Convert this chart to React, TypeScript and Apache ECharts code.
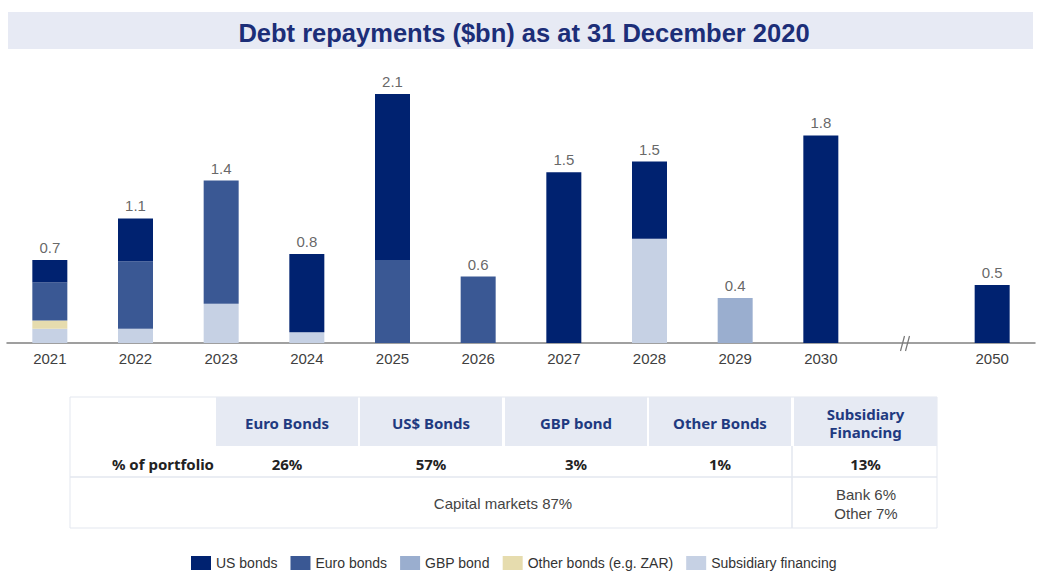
import React, { useEffect, useRef } from "react";
import * as echarts from "echarts";

// ---- Chart data ----
const years = ["2021", "2022", "2023", "2024", "2025", "2026", "2027", "2028", "2029", "2030", "", "2050"];
const subsidiaryFinancing = [0.12, 0.12, 0.33, 0.09, 0, 0, 0, 0.88, 0, 0, null, 0];
const otherBonds = [0.07, 0, 0, 0, 0, 0, 0, 0, 0, 0, null, 0];
const gbpBond = [0, 0, 0, 0, 0, 0, 0, 0, 0.38, 0, null, 0];
const euroBonds = [0.32, 0.57, 1.04, 0, 0.7, 0.56, 0, 0, 0, 0, null, 0];
const usBonds = [0.19, 0.36, 0, 0.66, 1.4, 0, 1.44, 0.65, 0, 1.75, null, 0.49];
const totalLabels = ["0.7", "1.1", "1.4", "0.8", "2.1", "0.6", "1.5", "1.5", "0.4", "1.8", "", "0.5"];
const breakIndex = 10;

// ---- Table data ----
const tableHeaders = ["Euro Bonds", "US$ Bonds", "GBP bond", "Other Bonds", "Subsidiary\nFinancing"];
const rowLabel = "% of portfolio";
const portfolioShares = ["26%", "57%", "3%", "1%", "13%"];
const capitalMarketsText = "Capital markets 87%";
const subsidiaryBreakdown = "Bank 6%\nOther 7%";

const TITLE = "Debt repayments ($bn) as at 31 December 2020";

const COLORS = {
  us: "#002270",
  euro: "#3A5894",
  gbp: "#9AAECF",
  other: "#E6DCAE",
  sub: "#C6D1E4",
};

const FONT = "Liberation Sans, Arial, sans-serif";
const TFONT = "Noto Sans, Open Sans, sans-serif";

function buildGraphic(breakPt?: number[]) {
  const g: any[] = [];
  // title banner
  g.push({ type: "rect", shape: { x: 8, y: 12, width: 1025, height: 37 }, style: { fill: "#E7EAF4" }, z: 0 });

  // table
  const colX = [
    [216, 358],
    [360, 502],
    [505, 647],
    [649, 791],
    [794, 937],
  ];
  g.push({ type: "rect", shape: { x: 70, y: 397, width: 867, height: 131 }, style: { fill: "#fff", stroke: "#E3E7EF", lineWidth: 1 }, z: 0 });
  colX.forEach(([a, b]) => {
    g.push({ type: "rect", shape: { x: a, y: 397, width: b - a, height: 49 }, style: { fill: "#E6EAF3" }, z: 1 });
  });
  g.push({ type: "line", shape: { x1: 70, y1: 477, x2: 937, y2: 477 }, style: { stroke: "#E3E7EF", lineWidth: 1.5 }, z: 1 });
  g.push({ type: "line", shape: { x1: 792, y1: 446, x2: 792, y2: 528 }, style: { stroke: "#E3E7EF", lineWidth: 1.5 }, z: 1 });

  colX.forEach(([a, b], i) => {
    const cx = (a + b) / 2;
    g.push({
      type: "text",
      x: cx,
      y: 423,
      z: 2,
      style: {
        text: tableHeaders[i],
        fill: "#1F3A80",
        font: `bold 15px ${TFONT}`,
        align: "center",
        verticalAlign: "middle",
        lineHeight: 18,
      },
    });
    g.push({
      type: "text",
      x: cx,
      y: 464,
      z: 2,
      style: {
        text: portfolioShares[i],
        fill: "#222",
        font: `bold 15px ${TFONT}`,
        align: "center",
        verticalAlign: "middle",
      },
    });
  });
  g.push({
    type: "text",
    x: 214,
    y: 464,
    z: 2,
    style: { text: rowLabel, fill: "#222", font: `bold 15px ${TFONT}`, align: "right", verticalAlign: "middle" },
  });
  g.push({
    type: "text",
    x: 503,
    y: 503,
    z: 2,
    style: { text: capitalMarketsText, fill: "#444", font: `15px ${FONT}`, align: "center", verticalAlign: "middle" },
  });
  g.push({
    type: "text",
    x: 866,
    y: 504,
    z: 2,
    style: {
      text: subsidiaryBreakdown,
      fill: "#444",
      font: `15px ${FONT}`,
      align: "center",
      verticalAlign: "middle",
      lineHeight: 19,
    },
  });

  if (breakPt) {
    const [bx, by] = breakPt;
    g.push({ type: "line", shape: { x1: bx - 6, y1: by + 8, x2: bx - 2, y2: by - 7 }, style: { stroke: "#777", lineWidth: 1.2 }, z: 10 });
    g.push({ type: "line", shape: { x1: bx - 1, y1: by + 8, x2: bx + 3, y2: by - 7 }, style: { stroke: "#777", lineWidth: 1.2 }, z: 10 });
  }
  return g;
}

export default function App() {
  const ref = useRef<HTMLDivElement>(null);
  useEffect(() => {
    if (!ref.current) return;
    const chart = echarts.init(ref.current, null, { renderer: "svg" });
    const totals = years.map((_, i) =>
      i === breakIndex
        ? null
        : [subsidiaryFinancing, otherBonds, gbpBond, euroBonds, usBonds].reduce((s, arr) => s + ((arr[i] as number) || 0), 0)
    );
    const barBase = { type: "bar", stack: "debt", barWidth: 35 };
    const option: any = {
      animation: false,
      backgroundColor: "#fff",
      textStyle: { fontFamily: FONT },
      title: {
        text: TITLE,
        left: "center",
        top: 15,
        textStyle: { fontFamily: FONT, fontSize: 25.5, fontWeight: "bold", color: "#1C2E78" },
        z: 6,
      },
      legend: {
        data: ["US bonds", "Euro bonds", "GBP bond", "Other bonds (e.g. ZAR)", "Subsidiary financing"],
        left: 186,
        top: 551,
        itemWidth: 20,
        itemHeight: 14,
        itemGap: 13,
        icon: "rect",
        textStyle: { fontSize: 14, color: "#333", fontFamily: FONT },
        selectedMode: false,
      },
      grid: { left: 7, right: 13, top: 46.5, bottom: 237 },
      xAxis: {
        type: "category",
        data: years,
        axisLine: { lineStyle: { color: "#808080", width: 1.5 } },
        axisTick: { show: false },
        axisLabel: { color: "#404040", fontSize: 15, margin: 8, fontFamily: FONT },
      },
      yAxis: { type: "value", min: 0, max: 2.5, show: false, splitLine: { show: false } },
      series: [
        { ...barBase, name: "Subsidiary financing", data: subsidiaryFinancing, itemStyle: { color: COLORS.sub } },
        { ...barBase, name: "Other bonds (e.g. ZAR)", data: otherBonds, itemStyle: { color: COLORS.other } },
        { ...barBase, name: "GBP bond", data: gbpBond, itemStyle: { color: COLORS.gbp } },
        { ...barBase, name: "Euro bonds", data: euroBonds, itemStyle: { color: COLORS.euro } },
        { ...barBase, name: "US bonds", data: usBonds, itemStyle: { color: COLORS.us } },
        {
          type: "scatter",
          name: "total",
          data: totals,
          symbolSize: 0,
          label: {
            show: true,
            position: "top",
            distance: 5,
            color: "#404040",
            fontSize: 15,
            fontFamily: FONT,
            formatter: (p: any) => totalLabels[p.dataIndex],
          },
          z: 5,
        },
      ],
      graphic: buildGraphic(),
    };
    chart.setOption(option);
    const pt = chart.convertToPixel({ gridIndex: 0 }, [breakIndex, 0]) as number[];
    chart.setOption({ graphic: buildGraphic(pt) });
    return () => chart.dispose();
  }, []);
  return <div ref={ref} style={{ position: "fixed", left: 0, top: 0, width: 1048, height: 580 }} />;
}
